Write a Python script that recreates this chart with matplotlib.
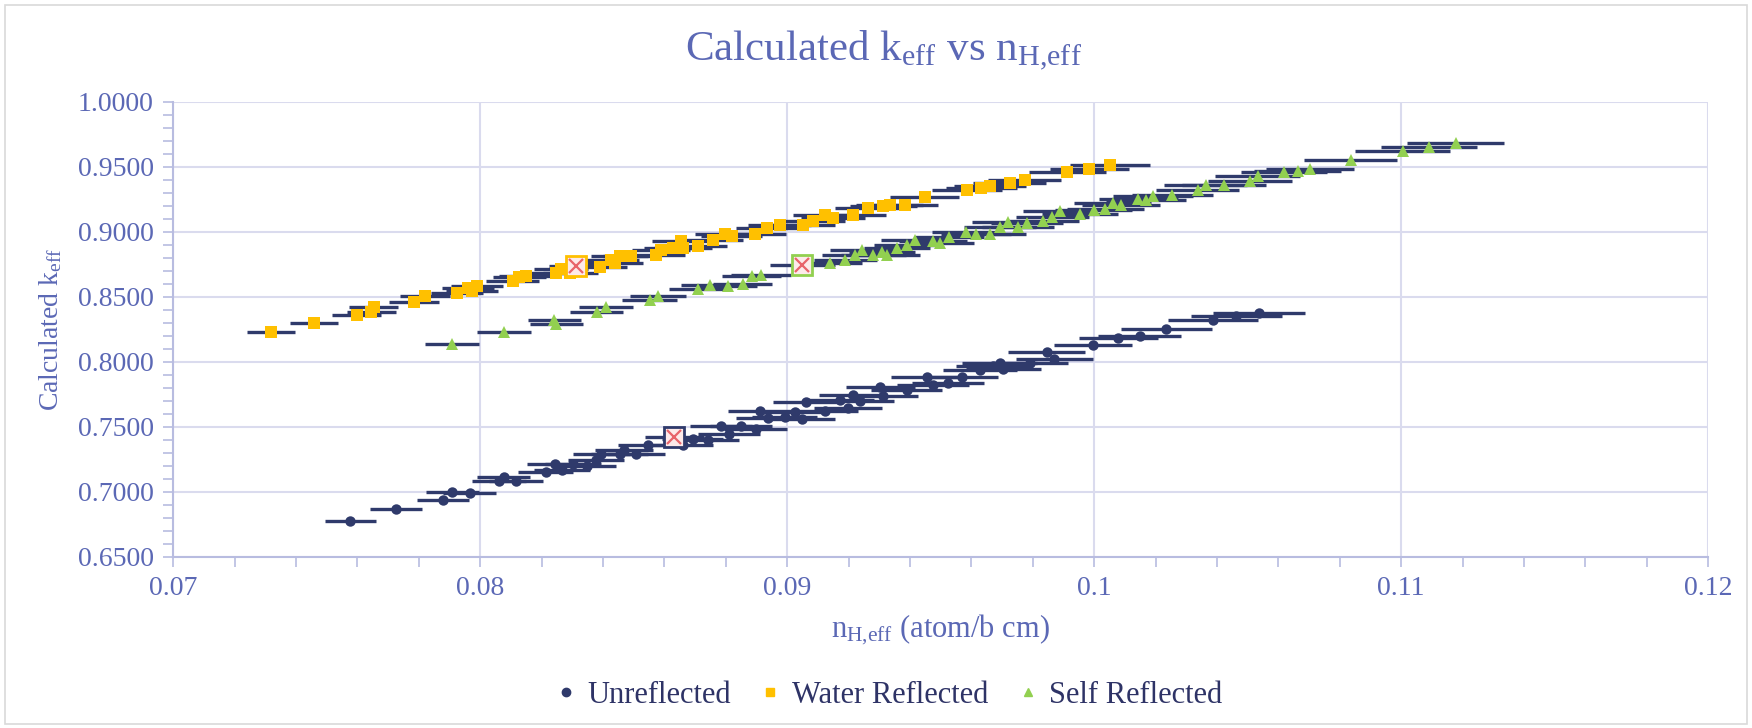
import matplotlib
matplotlib.use('Agg')

import matplotlib.pyplot as plt
from matplotlib.lines import Line2D
from matplotlib.patches import Rectangle
from matplotlib.ticker import MultipleLocator, FuncFormatter

plt.rcParams['font.family'] = ['Liberation Serif', 'DejaVu Serif']
plt.rcParams['mathtext.fontset'] = 'custom'
plt.rcParams['mathtext.rm'] = 'Liberation Serif'
plt.rcParams['mathtext.it'] = 'Liberation Serif:italic'

COLORS = {
    "unref": "#2F3A6B",
    "water": "#FFC000",
    "self": "#92D050",
    "bar": "#2F3A6B",
    "text": "#5B68B5",
    "legend_text": "#2E3366",
    "grid": "#DADBEE",
    "axis": "#B8BCE0",
    "x_mark": "#E8646A",
    "x_fill": "#FDEAEA",
}

# Unreflected
unref_x = [0.07577, 0.07726, 0.07878, 0.07910, 0.07966, 0.08061, 0.08077, 0.08117, 0.08213, 0.08244,
           0.08267, 0.08302, 0.08349, 0.08378, 0.08394, 0.08454, 0.08468, 0.08508, 0.08546, 0.08660,
           0.08693, 0.08742, 0.08785, 0.08812, 0.08850, 0.08898, 0.08913, 0.08938, 0.08992, 0.09025,
           0.09050, 0.09063, 0.09123, 0.09172, 0.09199, 0.09215, 0.09237, 0.09304, 0.09313, 0.09389,
           0.09454, 0.09476, 0.09524, 0.09568, 0.09628, 0.09671, 0.09693, 0.09704, 0.09790, 0.09845,
           0.09870, 0.09997, 0.10079, 0.10148, 0.10235, 0.10387, 0.10463, 0.10537]
unref_k = [0.6780, 0.6867, 0.6936, 0.7000, 0.6995, 0.7082, 0.7113, 0.7087, 0.7151, 0.7215,
           0.7167, 0.7218, 0.7197, 0.7249, 0.7295, 0.7295, 0.7326, 0.7295, 0.7364, 0.7364,
           0.7408, 0.7403, 0.7505, 0.7446, 0.7505, 0.7485, 0.7620, 0.7569, 0.7577, 0.7613,
           0.7564, 0.7690, 0.7621, 0.7705, 0.7646, 0.7749, 0.7697, 0.7808, 0.7736, 0.7787,
           0.7885, 0.7826, 0.7838, 0.7885, 0.7941, 0.7967, 0.7992, 0.7949, 0.7992, 0.8074,
           0.8023, 0.8133, 0.8187, 0.8200, 0.8251, 0.8320, 0.8351, 0.8379]
unref_err = [0.00083, 0.00084, 0.00085, 0.00086, 0.00086, 0.00087, 0.00087, 0.00088, 0.00089, 0.00090,
             0.00090, 0.00091, 0.00092, 0.00092, 0.00093, 0.00094, 0.00094, 0.00095, 0.00096, 0.00098,
             0.00099, 0.00100, 0.00101, 0.00101, 0.00102, 0.00103, 0.00104, 0.00104, 0.00106, 0.00107,
             0.00107, 0.00108, 0.00109, 0.00110, 0.00111, 0.00111, 0.00112, 0.00113, 0.00114, 0.00115,
             0.00117, 0.00117, 0.00118, 0.00119, 0.00121, 0.00122, 0.00122, 0.00122, 0.00124, 0.00125,
             0.00126, 0.00127, 0.00130, 0.00135, 0.00148, 0.00148, 0.00148, 0.00149]

# Water reflected
water_x = [0.07319, 0.07459, 0.07598, 0.07646, 0.07653, 0.07784, 0.07820, 0.07924, 0.07961, 0.07973,
           0.07989, 0.08106, 0.08128, 0.08150, 0.08248, 0.08264, 0.08294, 0.08389, 0.08427, 0.08438,
           0.08454, 0.08492, 0.08573, 0.08590, 0.08628, 0.08655, 0.08660, 0.08709, 0.08759, 0.08797,
           0.08819, 0.08895, 0.08933, 0.08976, 0.09052, 0.09085, 0.09123, 0.09150, 0.09215, 0.09264,
           0.09313, 0.09334, 0.09383, 0.09448, 0.09586, 0.09633, 0.09660, 0.09725, 0.09774, 0.09912,
           0.09984, 0.10051]
water_k = [0.8231, 0.8303, 0.8359, 0.8387, 0.8420, 0.8464, 0.8505, 0.8531, 0.8569, 0.8544,
           0.8587, 0.8621, 0.8654, 0.8659, 0.8685, 0.8715, 0.8685, 0.8731, 0.8787, 0.8760,
           0.8813, 0.8813, 0.8826, 0.8864, 0.8877, 0.8928, 0.8877, 0.8890, 0.8941, 0.8987,
           0.8967, 0.8987, 0.9031, 0.9056, 0.9056, 0.9082, 0.9133, 0.9108, 0.9133, 0.9185,
           0.9197, 0.9210, 0.9210, 0.9269, 0.9326, 0.9338, 0.9356, 0.9377, 0.9403, 0.9462,
           0.9487, 0.9513]
water_err = [0.00077, 0.00078, 0.00079, 0.00080, 0.00080, 0.00082, 0.00082, 0.00084, 0.00084, 0.00084,
             0.00085, 0.00086, 0.00087, 0.00087, 0.00088, 0.00089, 0.00089, 0.00090, 0.00091, 0.00091,
             0.00092, 0.00092, 0.00094, 0.00094, 0.00095, 0.00095, 0.00095, 0.00096, 0.00097, 0.00098,
             0.00098, 0.00100, 0.00101, 0.00102, 0.00103, 0.00104, 0.00105, 0.00105, 0.00107, 0.00108,
             0.00109, 0.00109, 0.00110, 0.00112, 0.00115, 0.00116, 0.00117, 0.00118, 0.00119, 0.00125,
             0.00128, 0.00130]

# Self reflected
self_x = [0.07908, 0.08078, 0.08242, 0.08248, 0.08380, 0.08410, 0.08552, 0.08579, 0.08709, 0.08748,
          0.08808, 0.08855, 0.08884, 0.08916, 0.09141, 0.09190, 0.09220, 0.09245, 0.09280, 0.09309,
          0.09326, 0.09358, 0.09391, 0.09416, 0.09476, 0.09497, 0.09528, 0.09584, 0.09615, 0.09662,
          0.09693, 0.09720, 0.09752, 0.09782, 0.09832, 0.09864, 0.09888, 0.09954, 0.09998, 0.10036,
          0.10060, 0.10087, 0.10144, 0.10169, 0.10191, 0.10255, 0.10337, 0.10364, 0.10423, 0.10508,
          0.10533, 0.10619, 0.10663, 0.10704, 0.10835, 0.11005, 0.11091, 0.11177]
self_k = [0.8138, 0.8231, 0.8326, 0.8292, 0.8385, 0.8423, 0.8474, 0.8505, 0.8562, 0.8590,
          0.8582, 0.8603, 0.8659, 0.8667, 0.8762, 0.8787, 0.8821, 0.8864, 0.8821, 0.8846,
          0.8821, 0.8877, 0.8903, 0.8941, 0.8933, 0.8915, 0.8959, 0.8997, 0.8987, 0.8987,
          0.9038, 0.9077, 0.9038, 0.9069, 0.9082, 0.9115, 0.9159, 0.9136, 0.9169, 0.9179,
          0.9220, 0.9205, 0.9251, 0.9244, 0.9277, 0.9282, 0.9321, 0.9362, 0.9362, 0.9392,
          0.9431, 0.9462, 0.9469, 0.9482, 0.9554, 0.9623, 0.9654, 0.9682]
self_err = [0.00087, 0.00089, 0.00087, 0.00087, 0.00087, 0.00087, 0.00090, 0.00090, 0.00093, 0.00094,
            0.00095, 0.00096, 0.00097, 0.00098, 0.00103, 0.00104, 0.00105, 0.00105, 0.00106, 0.00107,
            0.00107, 0.00108, 0.00109, 0.00109, 0.00111, 0.00111, 0.00112, 0.00113, 0.00114, 0.00115,
            0.00116, 0.00117, 0.00117, 0.00118, 0.00119, 0.00120, 0.00121, 0.00123, 0.00124, 0.00125,
            0.00126, 0.00127, 0.00128, 0.00129, 0.00130, 0.00132, 0.00134, 0.00135, 0.00136, 0.00138,
            0.00139, 0.00141, 0.00142, 0.00143, 0.00153, 0.00155, 0.00157, 0.00159]

# Highlighted (crossed) points, one per series
mark_x = [0.08633, 0.08313, 0.09050]
mark_k = [0.7423, 0.8741, 0.8744]
mark_err = [0.00097, 0.00090, 0.00105]
mark_edge = [COLORS["unref"], COLORS["water"], COLORS["self"]]

fig = plt.figure(figsize=(17.52, 7.28), dpi=100)
ax = fig.add_axes([0.0988, 0.235, 0.8762, 0.625])

series = [
    (unref_x, unref_k, unref_err, 'o', COLORS["unref"], 7.5, "Unreflected"),
    (water_x, water_k, water_err, 's', COLORS["water"], 8, "Water Reflected"),
    (self_x, self_k, self_err, '^', COLORS["self"], 8.5, "Self Reflected"),
]

# error bars first, markers on top
for xs, ks, errs, *_ in series:
    ax.errorbar(xs, ks, xerr=errs, fmt='none', ecolor=COLORS["bar"], elinewidth=2.4,
                capsize=0, zorder=2)
ax.errorbar(mark_x, mark_k, xerr=mark_err, fmt='none', ecolor=COLORS["bar"], elinewidth=2.4,
            capsize=0, zorder=2)

for xs, ks, errs, marker, color, size, label in series:
    ax.plot(xs, ks, linestyle='none', marker=marker, markersize=size, color=color,
            markeredgewidth=0, zorder=3)

for mx, mk, edge in zip(mark_x, mark_k, mark_edge):
    ax.plot(mx, mk, marker='s', markersize=14, markerfacecolor=COLORS["x_fill"],
            markeredgecolor=edge, markeredgewidth=2, linestyle='none', zorder=4)
    ax.plot(mx, mk, marker='x', markersize=10, color=COLORS["x_mark"],
            markeredgewidth=1.6, linestyle='none', zorder=5)

ax.set_xlim(0.07, 0.12)
ax.set_ylim(0.65, 1.0)
ax.xaxis.set_major_locator(MultipleLocator(0.01))
ax.xaxis.set_minor_locator(MultipleLocator(0.002))
ax.yaxis.set_major_locator(MultipleLocator(0.05))
ax.yaxis.set_minor_locator(MultipleLocator(0.01))
ax.xaxis.set_major_formatter(FuncFormatter(lambda v, p: f'{v:g}'))
ax.yaxis.set_major_formatter(FuncFormatter(lambda v, p: f'{v:.4f}'))

ax.grid(True, which='major', color=COLORS["grid"], linewidth=1.5, zorder=0)
ax.set_axisbelow(True)
ax.spines['top'].set_visible(False)
ax.spines['right'].set_visible(False)
ax.spines['bottom'].set_color(COLORS["axis"])
ax.spines['left'].set_color(COLORS["axis"])
ax.spines['bottom'].set_linewidth(1.5)
ax.spines['left'].set_linewidth(1.5)
ax.tick_params(which='both', direction='out', colors=COLORS["axis"], width=1.2,
               labelcolor=COLORS["text"], labelsize=20)
ax.tick_params(which='major', length=7, pad=7)
ax.tick_params(which='minor', length=7)

ax.set_xlabel(r'n$_{\mathregular{H{,}eff}}$ (atom/b cm)', color=COLORS["text"], fontsize=22, labelpad=8)
ax.set_ylabel(r'Calculated k$_{\mathregular{eff}}$', color=COLORS["text"], fontsize=20, labelpad=10)
fig.text(0.504, 0.93, r'Calculated k$_{\mathregular{eff}}$ vs n$_{\mathregular{H{,}eff}}$',
         ha='center', va='center', color=COLORS["text"], fontsize=31)

handles = [Line2D([], [], linestyle='none', marker=m, color=c, markersize=6)
           for _, _, _, m, c, _, _ in series]
labels = [s[-1] for s in series]
leg = fig.legend(handles, labels, loc='center', bbox_to_anchor=(0.506, 0.045), ncol=3,
                 frameon=False, fontsize=22, handletextpad=0.2, columnspacing=0.8,
                 handlelength=1.0)
for t in leg.get_texts():
    t.set_color(COLORS["legend_text"])

# chart area border
fig.patches.append(Rectangle((0.003, 0.005), 0.994, 0.988, transform=fig.transFigure,
                             fill=False, edgecolor='#D9D9D9', linewidth=1.2))

fig.savefig('out.png', dpi=100, facecolor='white')
